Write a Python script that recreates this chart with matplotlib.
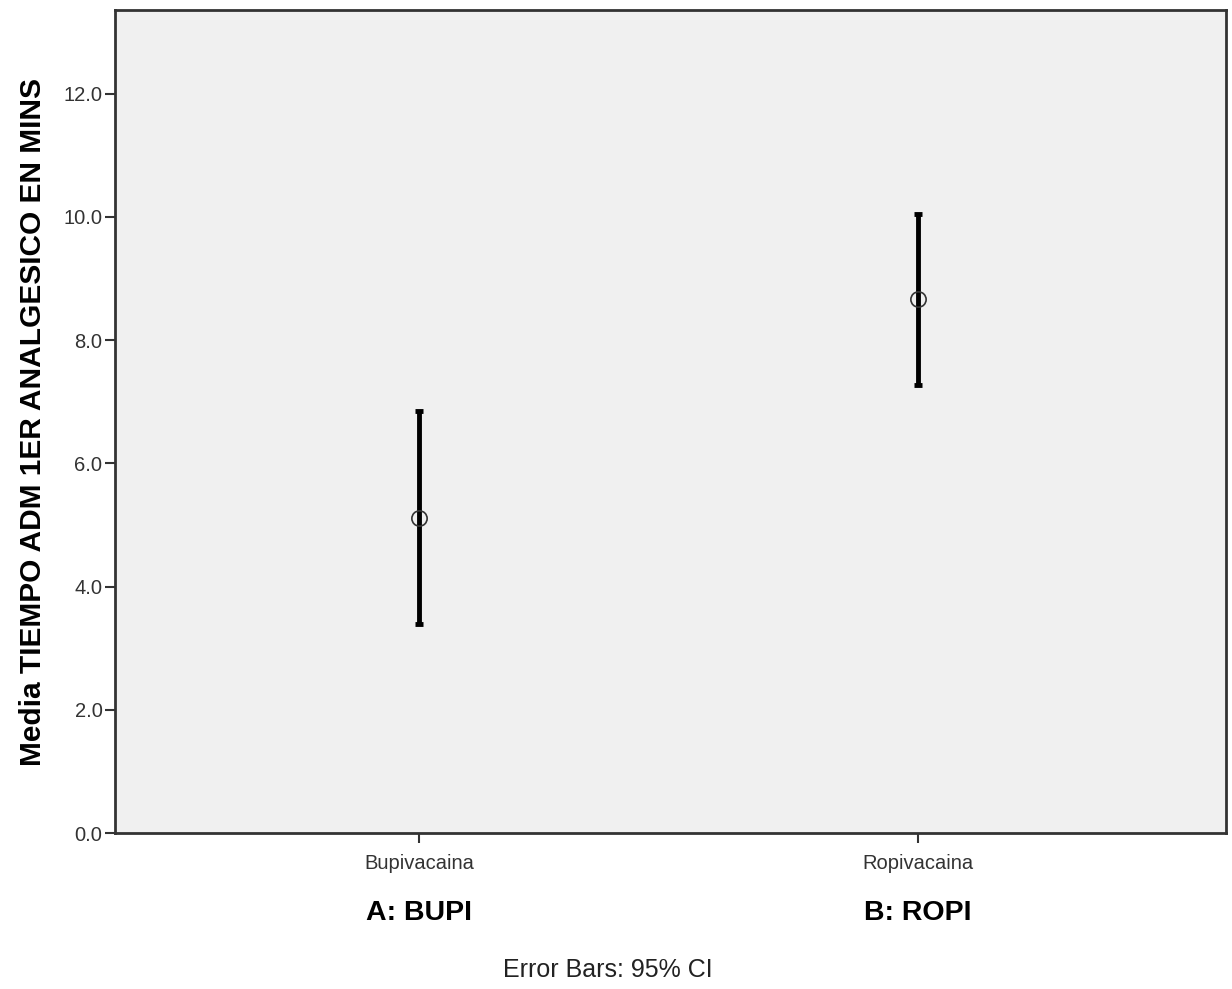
import matplotlib
matplotlib.use("Agg")
import matplotlib.pyplot as plt
import numpy as np

plt.rcParams['font.family'] = ['Liberation Sans', 'DejaVu Sans']

categories = ["Bupivacaina", "Ropivacaina"]
group_labels = ["A: BUPI", "B: ROPI"]
means = [5.11, 8.67]
ci_low = [3.39, 7.27]
ci_high = [6.85, 10.05]

fig = plt.figure(figsize=(12.32, 9.89), dpi=100)
ax = fig.add_axes([0.0933, 0.1577, 0.9018, 0.8322])
ax.set_facecolor('#f0f0f0')

x = np.arange(len(categories))
means = np.array(means)
yerr = np.array([means - np.array(ci_low), np.array(ci_high) - means])
ax.errorbar(x, means, yerr=yerr, fmt='none', ecolor='black', elinewidth=3.5,
            capsize=3, capthick=3.5)
ax.plot(x, means, 'o', markersize=11, markerfacecolor='none',
        markeredgecolor='#333333', markeredgewidth=1.2)

ax.set_xlim(-0.609, 1.617)
ax.set_ylim(0, 13.36)
ticks = np.arange(0, 13, 2.0)
ax.set_yticks(ticks)
ax.set_yticklabels([f"{v:.1f}" for v in ticks], fontsize=14.5, color='#333333')
ax.set_xticks(x)
ax.set_xticklabels(categories, fontsize=14.5, color='#333333')
ax.tick_params(axis='both', length=7, width=1.5, color='#333333')
ax.tick_params(axis='x', pad=8)
ax.tick_params(axis='y', pad=2)
for s in ax.spines.values():
    s.set_color('#333333')
    s.set_linewidth(2)

ax.set_ylabel("Media TIEMPO ADM 1ER ANALGESICO EN MINS", fontsize=21.5,
              fontweight='bold', labelpad=12)

for xi, lab in zip(x, group_labels):
    ax.text(xi, -1.3, lab, ha='center', va='center', fontsize=20.5,
            fontweight='bold')

fig.text(608 / 1232, 1 - 970 / 989, "Error Bars: 95% CI", ha='center', va='center',
         fontsize=18, color='#222222')

fig.savefig("out.png", dpi=100)
